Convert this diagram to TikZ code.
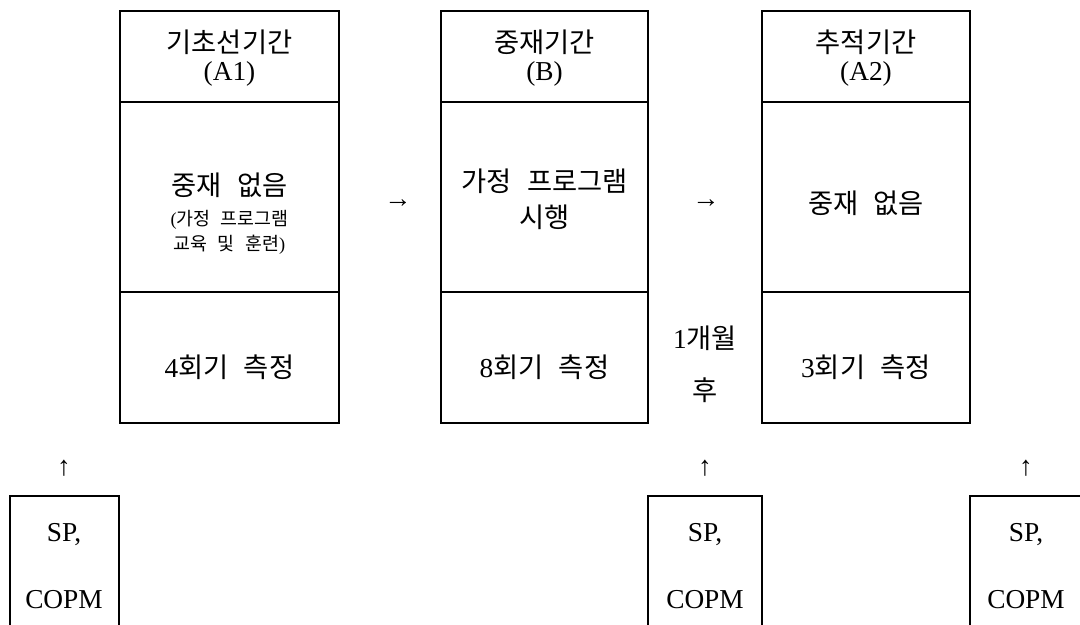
\documentclass[tikz,border=0pt]{standalone}
\usepackage{fontspec}
\setmainfont{Liberation Serif}
\newfontfamily\kr[WordSpace=2.5]{Noto Sans CJK KR}
\begin{document}
\begin{tikzpicture}[x=0.75pt,y=-0.75pt,
  box/.style={line width=2.1pt},
  big/.style={font=\fontsize{20.5}{24}\selectfont, inner sep=0, anchor=center},
  small/.style={font=\fontsize{13.8}{15}\selectfont, inner sep=0, anchor=center}]
\clip (0,0) rectangle (1080,624);
% period boxes
\draw[box] (120,11) rectangle (339,423);
\draw[box] (120,102) -- (339,102);
\draw[box] (120,292) -- (339,292);
\draw[box] (441,11) rectangle (648,423);
\draw[box] (441,102) -- (648,102);
\draw[box] (441,292) -- (648,292);
\draw[box] (762,11) rectangle (970,423);
\draw[box] (762,102) -- (970,102);
\draw[box] (762,292) -- (970,292);
% measurement boxes
\draw[box] (10,496) rectangle (119,650);
\draw[box] (648,496) rectangle (762,650);
\draw[box] (970,496) rectangle (1090,650);
% box 1
\node[big] (h1a) at (229.5,42) {\kr 기초선기간};
\node[big] (h1b) at (229.5,74) {(A1)};
\node[big] (m1a) at (229.5,185) {\kr 중재 없음};
\node[small] (m1b) at (229.5,220) {(\kr 가정 프로그램};
\node[small] (m1c) at (229.5,245) {\kr 교육 및 훈련\rmfamily)};
\node[big] (b1) at (229.5,367) {4\kr 회기 측정};
% box 2
\node[big] (h2a) at (544.5,42) {\kr 중재기간};
\node[big] (h2b) at (544.5,74) {(B)};
\node[big] (m2a) at (544.5,181) {\kr 가정 프로그램};
\node[big] (m2b) at (544.5,217) {\kr 시행};
\node[big] (b2) at (544.5,367) {8\kr 회기 측정};
% box 3
\node[big] (h3a) at (866,42) {\kr 추적기간};
\node[big] (h3b) at (866,74) {(A2)};
\node[big] (m3a) at (866,203) {\kr 중재 없음};
\node[big] (b3) at (866,367) {3\kr 회기 측정};
% arrows between periods
\node[big] (r1) at (398,204) {→};
\node[big] (r2) at (706,204) {→};
\node[big] (g1) at (705,338) {1\kr 개월};
\node[big] (g2) at (705,390) {\kr 후};
% up arrows
\node[big] (u1) at (64,468) {↑};
\node[big] (u2) at (705,468) {↑};
\node[big] (u3) at (1026,468) {↑};
% measurement labels
\node[big] (s1) at (64,535) {SP,};
\node[big] (c1) at (64,600) {COPM};
\node[big] (s2) at (705,535) {SP,};
\node[big] (c2) at (705,600) {COPM};
\node[big] (s3) at (1026,535) {SP,};
\node[big] (c3) at (1026,600) {COPM};
\end{tikzpicture}
\end{document}
